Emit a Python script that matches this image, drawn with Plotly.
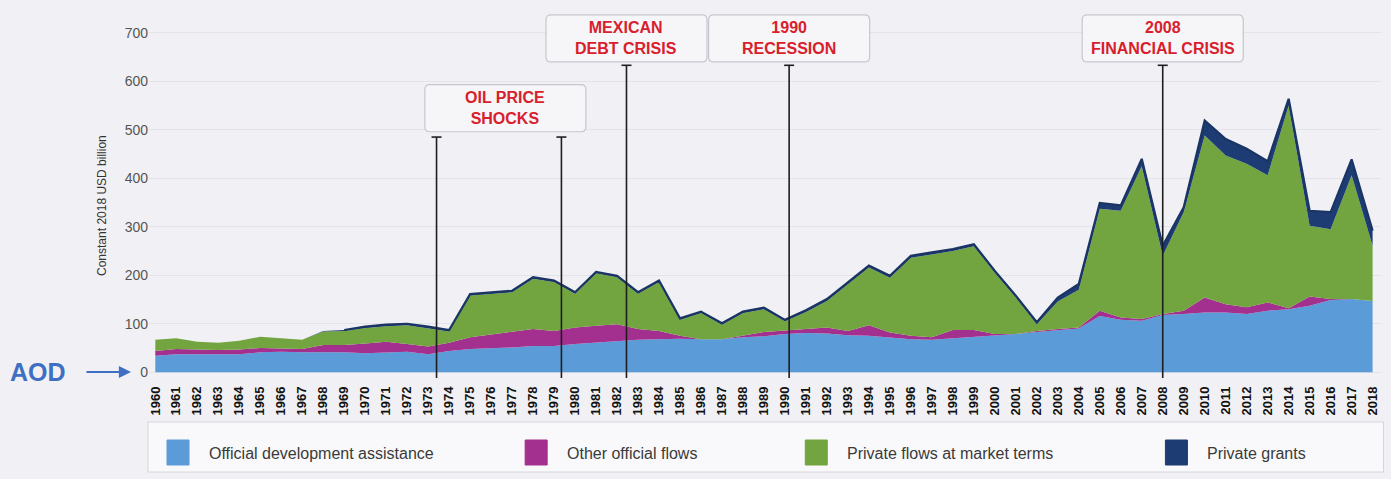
import plotly.graph_objects as go

years = list(range(1960, 2019))

oda = [34, 37, 37, 37, 37, 41, 42, 41, 41, 41,
       39, 41, 42, 37, 44, 48, 49, 51, 54, 54,
       58, 61, 65, 67, 68, 69, 68, 68, 72, 74,
       79, 81, 80, 76, 75, 72, 68, 67, 70, 72,
       76, 79, 83, 87, 90, 116, 108, 106, 118, 120,
       123, 123, 120, 127, 130, 137, 149, 151, 147]

oof = [10, 11, 10, 9, 10, 9, 7, 7, 15, 15,
       20, 22, 16, 16, 17, 24, 29, 32, 35, 31,
       34, 35, 34, 22, 17, 6, 0, 0, 3, 9,
       7, 8, 12, 9, 22, 10, 7, 5, 17, 15,
       3, 0, 2, 2, 2, 11, 5, 4, 2, 7,
       31, 17, 14, 17, 2, 19, 2, 0, 0]

private_market = [23, 22, 16, 15, 18, 23, 21, 19, 28, 29,
                  32, 32, 39, 38, 23, 86, 84, 82, 104, 101,
                  70, 108, 97, 73, 101, 33, 54, 30, 47, 47,
                  19, 35, 55, 96, 119, 113, 161, 171, 163, 173,
                  126, 75, 14, 57, 78, 210, 220, 315, 120, 203,
                  334, 307, 296, 262, 418, 146, 144, 255, 114]

private_grants = [0, 0, 0, 0, 0, 0, 0, 0, 1, 2,
                  3, 3, 3, 3, 3, 3, 3, 3, 3, 3,
                  3, 3, 3, 3, 3, 3, 3, 3, 3, 3,
                  3, 4, 4, 4, 4, 4, 4, 4, 4, 4,
                  4, 4, 4, 8, 12, 12, 11, 15, 21, 10,
                  31, 34, 31, 29, 14, 31, 35, 33, 31]

series_names = ["Official development assistance", "Other official flows",
                "Private flows at market terms", "Private grants"]
series_colors = ["#5b9bd8", "#a3308f", "#72a53f", "#1d3c73"]
outline_start_year = 1969

event_labels = ["OIL PRICE<br>SHOCKS", "MEXICAN<br>DEBT CRISIS", "1990<br>RECESSION", "2008<br>FINANCIAL CRISIS"]
event_box_center = [1976.68, 1982.45, 1990.2, 2008.0]
event_line_years = [[1973.4, 1979.35], [1982.45], [1990.2], [2008.0]]
event_box_top = [593, 737, 737, 737]
event_box_bottom = [496, 640, 640, 640]
event_line_top = [485, 633, 633, 633]

tick_vals = [0, 100, 200, 300, 400, 500, 600, 700]

FONT = "Liberation Sans Narrow, Liberation Sans, Arial Narrow, sans-serif"

fig = go.Figure()
for vals, name, col in zip([oda, oof, private_market, private_grants], series_names, series_colors):
    fig.add_trace(go.Scatter(
        x=years, y=vals, name=name, stackgroup="one", mode="lines",
        line=dict(color=col, width=0), fillcolor=col, showlegend=False,
    ))

# dark outline along the top of the stack
totals = [a + b + c + d for a, b, c, d in zip(oda, oof, private_market, private_grants)]
ox = [y for y in years if y >= outline_start_year]
oy = [t for y, t in zip(years, totals) if y >= outline_start_year]
fig.add_trace(go.Scatter(x=ox, y=oy, mode="lines", line=dict(color="#1a3464", width=2.2),
                         showlegend=False, hoverinfo="skip"))

# pixel scale helpers (data units per pixel)
YR_PER_PX = 1 / 20.98
VAL_PER_PX = 1 / 0.4843


def rounded_box(x0, x1, y0, y1, r_px=5):
    rx = r_px * YR_PER_PX
    ry = r_px * VAL_PER_PX
    return (f"M {x0+rx},{y1} L {x1-rx},{y1} Q {x1},{y1} {x1},{y1-ry} "
            f"L {x1},{y0+ry} Q {x1},{y0} {x1-rx},{y0} L {x0+rx},{y0} "
            f"Q {x0},{y0} {x0},{y0+ry} L {x0},{y1-ry} Q {x0},{y1} {x0+rx},{y1} Z")


shapes = []
annotations = []
half_w = 80.5 * YR_PER_PX
cap = 5 * YR_PER_PX
for lab, cx, lines, top, bot, ltop in zip(event_labels, event_box_center, event_line_years,
                                          event_box_top, event_box_bottom, event_line_top):
    shapes.append(dict(type="path", path=rounded_box(cx - half_w, cx + half_w, bot, top),
                       xref="x", yref="y", fillcolor="#f6f6f8",
                       line=dict(color="#c6c6cf", width=1.2), layer="above"))
    annotations.append(dict(x=cx, y=(top + bot) / 2, xref="x", yref="y", text="<b>" + lab + "</b>",
                            xanchor="center", yanchor="middle",
                            showarrow=False, font=dict(family=FONT, size=16, color="#d8202d"),
                            align="center"))
    for lx in lines:
        shapes.append(dict(type="line", x0=lx, x1=lx, y0=-12, y1=ltop, xref="x", yref="y",
                           line=dict(color="#1e1e1e", width=1.6), layer="above"))
        shapes.append(dict(type="line", x0=lx - cap, x1=lx + cap, y0=ltop, y1=ltop, xref="x", yref="y",
                           line=dict(color="#1e1e1e", width=1.6), layer="above"))

# legend drawn as shapes + text
PLOT_L, PLOT_W, PLOT_B, PLOT_H = 149, 1231.5, 379, 368


def px(xp):
    return (xp - PLOT_L) / PLOT_W


def py(yp):
    return (PLOT_B - yp) / PLOT_H


shapes.append(dict(type="rect", xref="paper", yref="paper", x0=px(148), x1=px(1383), y0=py(472), y1=py(422),
                   fillcolor="#f9f9fb", line=dict(color="#d4d4dc", width=1), layer="above"))
legend_sw_x = [167, 525, 805, 1165]
for name, col, sx in zip(series_names, series_colors, legend_sw_x):
    shapes.append(dict(type="rect", xref="paper", yref="paper", x0=px(sx), x1=px(sx + 22),
                       y0=py(465), y1=py(440), fillcolor=col, line=dict(color=col, width=1), layer="above"))
    annotations.append(dict(x=px(sx + 40), y=py(453), xref="paper", yref="paper", text=name,
                            xanchor="left", yanchor="middle", showarrow=False,
                            font=dict(family=FONT, size=16, color="#3a3a3a")))

# y-axis title
annotations.append(dict(x=px(102), y=py(205), xref="paper", yref="paper", text="Constant 2018 USD billion",
                        textangle=-90, xanchor="center", yanchor="middle", showarrow=False,
                        font=dict(family=FONT, size=12, color="#333333")))
# AOD marker
annotations.append(dict(x=px(38), y=py(372), xref="paper", yref="paper", text="<b>AOD</b>",
                        xanchor="center", yanchor="middle", showarrow=False,
                        font=dict(family="Liberation Sans, sans-serif", size=25, color="#3f6fc2")))
annotations.append(dict(x=px(131), y=py(372), xref="paper", yref="paper", text="", showarrow=True,
                        ax=-46, ay=0, arrowhead=2, arrowsize=1.1, arrowwidth=2.2, arrowcolor="#3f6fc2"))

fig.update_layout(
    width=1391, height=479,
    margin=dict(l=149, r=10, t=11, b=100),
    paper_bgcolor="#f1f1f5", plot_bgcolor="#f1f1f5",
    shapes=shapes, annotations=annotations,
    xaxis=dict(range=[1959.7, 2018.4], tickmode="array", tickvals=years,
               ticktext=[f"<b>{y}</b>" for y in years], tickangle=-90,
               tickfont=dict(family=FONT, size=13, color="#111111"), ticklabelstandoff=4,
               showgrid=False, zeroline=False, showline=False, ticks=""),
    yaxis=dict(range=[-14, 745], tickmode="array", tickvals=tick_vals,
               ticktext=[str(v) for v in tick_vals],
               tickfont=dict(family=FONT, size=14, color="#555555"),
               showgrid=True, gridcolor="#e3e3ea", gridwidth=1, zeroline=False, showline=False, ticks=""),
)

fig.write_html("out.html", config={"displayModeBar": False},
               post_script="document.body.style.margin='0px';document.body.style.background='#f1f1f5';")
